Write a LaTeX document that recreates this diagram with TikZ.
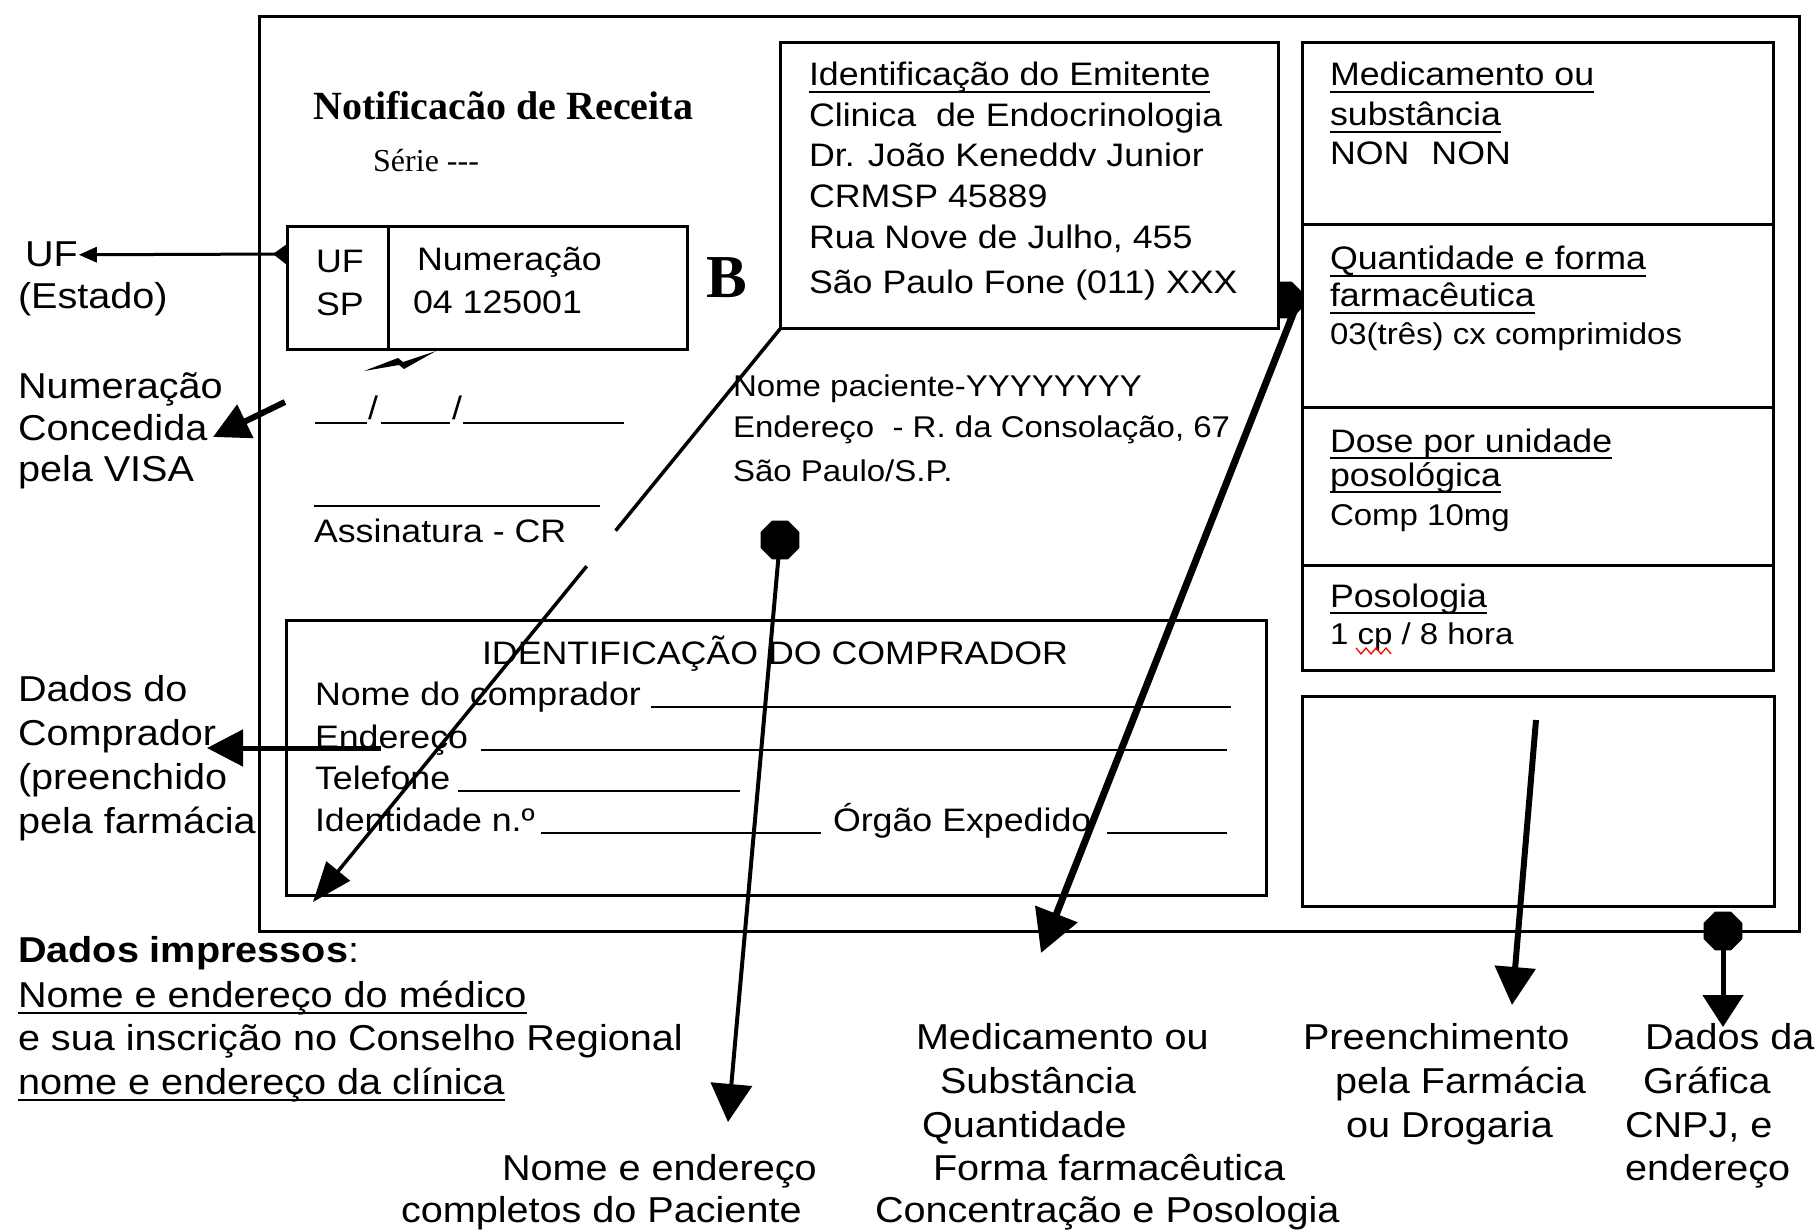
\documentclass[tikz,border=0pt]{standalone}
\usepackage{fontspec}
\setmainfont{Liberation Sans}[FakeStretch=1.1]
\newfontfamily\serifface{Liberation Serif}
\usetikzlibrary{arrows.meta,shapes.geometric,calc}
\newcommand{\ulnode}[1]{\draw[ulline] ([yshift=-6pt]#1.base west) -- ([yshift=-6pt]#1.base east);}
\begin{document}
\begin{tikzpicture}[x=1pt,y=-1pt,
  box/.style={draw, line width=3pt, inner sep=0pt, outer sep=0pt, anchor=north west},
  lab/.style={inner sep=0pt, outer sep=0pt, anchor=base west, font=\fontsize{36}{40}\selectfont},
  frm/.style={inner sep=0pt, outer sep=0pt, anchor=base west, font=\fontsize{32.5}{37}\selectfont},
  frms/.style={inner sep=0pt, outer sep=0pt, anchor=base west, font=\fontsize{30}{34}\selectfont},
  fieldline/.style={line width=2.6pt},
  ulline/.style={line width=2.6pt},
  blackdot/.style={regular polygon, regular polygon sides=8, fill=black, minimum size=42pt, inner sep=0pt, outer sep=0pt},
  conn/.style={line width=#1},
]
\fill[white] (0,0) rectangle (1818,1230);
\useasboundingbox (0,0) rectangle (1818,1230);

% outer form
\node[box, minimum width=1540pt, minimum height=914pt] (outer) at (259,17) {};

% thick arrow from emitente (drawn before the box so the box hides part of the dot)
\node[blackdot, minimum size=40pt] (edot) at (1284,300) {};
\coordinate (e0) at (1297,304);
\coordinate (q1) at (1041,953);
\draw[conn=7pt, -{Triangle[length=42pt,width=44pt]}] (e0) -- (q1);

% emitente box
\node[box, fill=white, minimum width=498pt, minimum height=286pt] (emit) at (780,43) {};
\node[frm] (em1) at (809,86) {Identificação do Emitente}; \ulnode{em1}
\node[frm] (em2) at (809,127) {Clinica\ \ de Endocrinologia};
\node[frm] (em3) at (809,167) {Dr. João Keneddv Junior};
\node[frm] (em4) at (809,208) {CRMSP 45889};
\node[frm] (em5) at (809,249) {Rua Nove de Julho, 455};
\node[frm] (em6) at (809,294) {São Paulo Fone (011) XXX};

% right column
\node[box, minimum width=471pt, minimum height=182pt] (rb1) at (1302,43) {};
\node[box, minimum width=471pt, minimum height=183pt] (rb2) at (1302,225) {};
\node[box, minimum width=471pt, minimum height=157pt] (rb3) at (1302,408) {};
\node[box, minimum width=471pt, minimum height=105pt] (rb4) at (1302,565) {};
\node[box, minimum width=472pt, minimum height=210pt] (rb5) at (1302,696) {};

\node[frm] (r1) at (1330,86) {Medicamento ou}; \ulnode{r1}
\node[frm] (r2) at (1330,126) {substância}; \ulnode{r2}
\node[frm] (r3) at (1330,165) {NON\hspace{22pt}NON};
\node[frm] (r4) at (1330,270) {Quantidade e forma}; \ulnode{r4}
\node[frm] (r5) at (1330,307) {farmacêutica}; \ulnode{r5}
\node[frms] (r6) at (1330,345) {03(três) cx comprimidos};
\node[frm] (r7) at (1330,452) {Dose por unidade}; \ulnode{r7}
\node[frm] (r8) at (1330,486) {posológica}; \ulnode{r8}
\node[frms] (r9) at (1330,525) {Comp 10mg};
\node[frm] (r10) at (1330,607) {Posologia}; \ulnode{r10}
\node[frms] (r11) at (1330,644) {1 cp / 8 hora};
\draw[red, line width=1.3pt] (1356,648) -- (1361,654) -- (1366,648) -- (1371,654) -- (1376,648) -- (1381,654) -- (1386,648) -- (1391,654);

% title area
\node[inner sep=0pt, anchor=base west, font=\serifface\bfseries\fontsize{40}{44}\selectfont] (title) at (313,120) {Notificacão de Receita};
\node[inner sep=0pt, anchor=base west, font=\serifface\fontsize{32}{34}\selectfont] (serie) at (373,172) {Série ---};
\node[inner sep=0pt, anchor=base west, font=\serifface\bfseries\fontsize{61}{66}\selectfont] (bee) at (706,298) {B};

% UF box
\node[box, minimum width=400pt, minimum height=123pt] (ufbox) at (287,227) {};
\draw[line width=3pt] (388,227) -- (388,350);
\node[frm] (uf1) at (316,273) {UF};
\node[frm] (uf2) at (316,316) {SP};
\node[frm] (uf3) at (417,271) {Numeração};
\node[frm] (uf4) at (413,314) {04 125001};

% odd stroke below UF box
\fill (364,371) -- (398,358) -- (403,362) -- (436,351) -- (404,369) -- (399,365) -- cycle;

% date and signature
\draw[fieldline] (315,423) -- (367,423);
\draw[fieldline] (381,423) -- (450,423);
\draw[fieldline] (463,423) -- (624,423);
\node[frm] (sl1) at (368,420) {/};
\node[frm] (sl2) at (452,420) {/};
\draw[fieldline] (314,506) -- (600,506);
\node[frm] (assin) at (314,542) {Assinatura - CR};

% patient data
\node[frms] (pa1) at (733,396) {Nome paciente-YYYYYYYY};
\node[frms] (pa2) at (733,438) {Endereço\ \ - R. da Consolação, 67};
\node[frms] (pa3) at (733,481) {São Paulo/S.P.};

% comprador box
\node[box, minimum width=980pt, minimum height=275pt] (comp) at (286,620) {};
\node[frm, anchor=base] (cid) at (775,664) {IDENTIFICAÇÃO DO COMPRADOR};
\node[frm] (cn1) at (315,705) {Nome do comprador};
\node[frm] (cn2) at (315,748) {Endereço};
\node[frm] (cn3) at (315,789) {Telefone};
\node[frm] (cn4) at (315,831) {Identidade n.º};
\node[frm] (cn5) at (833,831) {Órgão Expedido};
\draw[fieldline] (651,707) -- (1231,707);
\draw[fieldline] (481,750) -- (1227,750);
\draw[fieldline] (458,791) -- (740,791);
\draw[fieldline] (541,833) -- (821,833);
\draw[fieldline] (1107,833) -- (1227,833);

% outside labels, left
\node[lab] (uflab) at (25,267) {UF};
\node[lab] (est) at (18,309) {(Estado)};
\node[lab] (nc1l) at (18,399) {Numeração};
\node[lab] (nc2l) at (18,440) {Concedida};
\node[lab] (nc3l) at (18,481) {pela VISA};
\node[lab] (dc1) at (18,701) {Dados do};
\node[lab] (dc2) at (18,745) {Comprador};
\node[lab] (dc3) at (18,789) {(preenchido};
\node[lab] (dc4) at (18,833) {pela farmácia};
\node[lab] (di1) at (18,962) {{\bfseries Dados impressos}:};
\node[lab] (di2) at (18,1007) {Nome e endereço do médico}; \ulnode{di2}
\node[lab] (di3) at (18,1050) {e sua inscrição no Conselho Regional};
\node[lab] (di4) at (18,1094) {nome e endereço da clínica}; \ulnode{di4}

% bottom labels
\node[lab] (pl1) at (502,1180) {Nome e endereço};
\node[lab] (pl2) at (401,1222) {completos do Paciente};
\node[lab] (ml1) at (916,1049) {Medicamento ou};
\node[lab] (ml2) at (940,1093) {Substância};
\node[lab] (ml3) at (922,1137) {Quantidade};
\node[lab] (ml4) at (933,1180) {Forma farmacêutica};
\node[lab] (ml5) at (875,1222) {Concentração e Posologia};
\node[lab] (fl1) at (1303,1049) {Preenchimento};
\node[lab] (fl2) at (1335,1093) {pela Farmácia};
\node[lab] (fl3) at (1346,1137) {ou Drogaria};
\node[lab] (gl1) at (1645,1049) {Dados da};
\node[lab] (gl2) at (1643,1093) {Gráfica};
\node[lab] (gl3) at (1625,1137) {CNPJ, e};
\node[lab] (gl4) at (1625,1180) {endereço};

% connectors
% UF
\coordinate (ufa) at (287,254);
\fill (ufa) ++(0,-10) -- ++(-14,10) -- ++(14,11) -- cycle;
\draw[conn=3pt, -{Triangle[length=18pt,width=15pt]}, shorten >=1pt] (ufa) -- (uflab.east);
% Numeracao concedida
\coordinate (nc0) at (285,402);
\coordinate (nc1) at (213,437);
\draw[conn=6pt, -{Triangle[length=36pt,width=36pt]}] (nc0) -- (nc1);
% diagonal from emitente to comprador box
\coordinate (d1) at (313,902);
\draw[conn=3.5pt] (emit.south west) -- ($(emit.south west)!0.352!(d1)$);
\draw[conn=3.5pt, -{Triangle[length=40pt,width=30pt]}] ($(emit.south west)!0.414!(d1)$) -- (d1);
% patient
\node[blackdot] (pdot) at (780,540) {};
\coordinate (p1) at (728,1122);
\draw[conn=4pt, -{Triangle[length=38pt,width=41pt]}] (pdot.center) -- (p1);
% comprador
\coordinate (c0) at (381,748);
\coordinate (c1) at (207,748);
\draw[conn=5pt, -{Triangle[length=36pt,width=36pt]}] (c0) -- (c1);
% preenchimento
\coordinate (f0) at (1536,720);
\coordinate (f1) at (1512,1005);
\draw[conn=6pt, -{Triangle[length=38pt,width=40pt]}] (f0) -- (f1);
% grafica
\node[blackdot] (gdot) at (1723,931) {};
\coordinate (g1) at (1723,1027);
\draw[conn=5pt, -{Triangle[length=32pt,width=40pt]}] (gdot.center) -- (g1);
\end{tikzpicture}
\end{document}
